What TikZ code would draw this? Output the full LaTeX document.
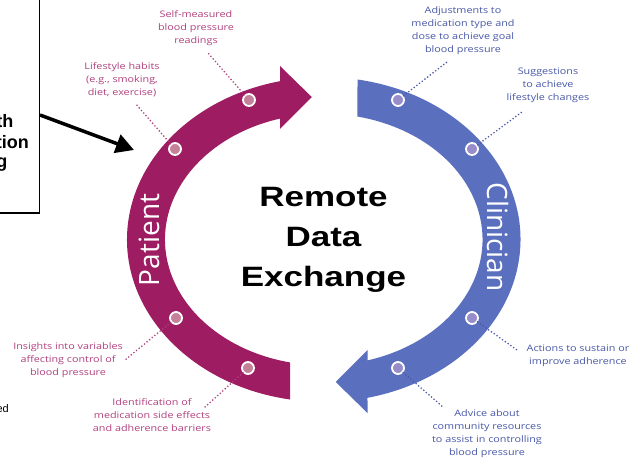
\documentclass[tikz,border=0pt]{standalone}
\usepackage{fontspec}
\setmainfont{Open Sans}
\newfontfamily\lblfont[FakeStretch=1.2]{Open Sans}
\newfontfamily\bandfont{Open Sans}
\newfontfamily\titlefont[FakeStretch=1.25]{Liberation Sans}
\newfontfamily\boxfont{Liberation Sans}
\usetikzlibrary{arrows.meta}
\definecolor{pat}{HTML}{9E1D62}
\definecolor{cli}{HTML}{5B6FBF}
\definecolor{patlbl}{HTML}{B0407F}
\definecolor{clilbl}{HTML}{4858A8}
\definecolor{patdot}{HTML}{C48199}
\definecolor{clidot}{HTML}{978DCB}
\tikzset{
  lbl/.style={font=\lblfont\fontsize{9}{13}\selectfont, align=center, inner sep=0pt},
  plbl/.style={lbl, text=patlbl},
  clbl/.style={lbl, text=clilbl},
  pdot/.style={circle, draw=white, line width=1.8pt, fill=patdot, minimum size=12pt, inner sep=0pt},
  cdot/.style={circle, draw=white, line width=1.8pt, fill=clidot, minimum size=12pt, inner sep=0pt},
  pleader/.style={draw=patlbl, line width=1.8pt, dash pattern=on 0pt off 3.4pt, line cap=round},
  cleader/.style={draw=clilbl, line width=1.8pt, dash pattern=on 0pt off 3.4pt, line cap=round},
  bandtxt/.style={text=white, font=\bandfont\fontsize{28}{28}\selectfont, inner sep=0pt},
  boxtxt/.style={font=\boxfont\bfseries\fontsize{18}{20}\selectfont, inner sep=0pt, anchor=base east},
  bigarrow/.style={line width=3.5pt, -{Triangle[length=18pt,width=19pt]}},
}
\begin{document}
\begin{tikzpicture}[x=1pt,y=1pt]
\useasboundingbox (0,0) rectangle (629,-462);
\clip (0,0) rectangle (629,-462);
\fill[white] (0,0) rectangle (629,-462);

% left box (partially visible)
\draw[line width=1.6pt] (-20,20) rectangle (39.5,-213);
\node[boxtxt] (t1) at (13.5,-128) {th};
\node[boxtxt] (t2) at (29,-149) {ation};
\node[boxtxt] (t3) at (7.5,-168) {g};
\node[font=\boxfont\fontsize{11}{13}\selectfont, inner sep=0pt, anchor=base east] (ed) at (9,-412) {ed};
\coordinate (arrS) at (40,-115);
\coordinate (arrE) at (134,-150);
\draw[bigarrow] (arrS) -- (arrE);

% bands
\begin{scope}[shift={(323.75,-239.5)}]
\fill[pat] (-43.75,158.3) -- (-43.75,173.5) -- (-12,142.5) -- (-43.75,110.5) -- (-43.75,120.9)
  arc[start angle=106, end angle=257.73, x radius=158.75, y radius=125.8]
  -- (-33.75,-160.0)
  arc[start angle=260.12, end angle=102.85, x radius=196.75, y radius=162.4] -- cycle;
\fill[cli] (33.75,160.0)
  arc[start angle=80.12, end angle=-77.15, x radius=196.75, y radius=162.4]
  -- (43.75,-173.5) -- (12,-142.5) -- (43.75,-110.5) -- (43.75,-120.9)
  arc[start angle=-74, end angle=77.73, x radius=158.75, y radius=125.8] -- cycle;
\end{scope}

\node[bandtxt, rotate=90] (patient) at (149.5,-240) {Patient};
\node[bandtxt, rotate=-90] (clinician) at (497.5,-237) {Clinician};

\node[font=\titlefont\bfseries\fontsize{28}{40}\selectfont, align=center, inner sep=0pt] (title) at (323.5,-240) {Remote\\Data\\Exchange};

% dots
\node[pdot] (d1) at (175,-149) {};
\node[pdot] (d2) at (249,-100) {};
\node[pdot] (d3) at (176,-318) {};
\node[pdot] (d4) at (248,-368) {};
\node[cdot] (d5) at (398,-100) {};
\node[cdot] (d6) at (472,-149) {};
\node[cdot] (d7) at (472,-318) {};
\node[cdot] (d8) at (398,-368) {};

% labels
\node[plbl] (l2) at (196,-28) {Self-measured\\blood pressure\\readings};
\node[plbl] (l1) at (122,-80) {Lifestyle habits\\(e.g., smoking,\\diet, exercise)};
\node[plbl] (l3) at (68,-360) {Insights into variables\\affecting control of\\blood pressure};
\node[plbl] (l4) at (152,-415) {Identification of\\medication side effects\\and adherence barriers};
\node[clbl] (l5) at (463,-31) {Adjustments to\\medication type and\\dose to achieve goal\\blood pressure};
\node[clbl] (l6) at (548,-85) {Suggestions\\to achieve\\lifestyle changes};
\node[clbl] (l7) at (578,-356) {Actions to sustain or\\improve adherence};
\node[clbl] (l8) at (487,-434) {Advice about\\community resources\\to assist in controlling\\blood pressure};

% leaders
\coordinate (e1) at (135,-103);
\coordinate (e2) at (208,-53);
\coordinate (e3) at (125,-360);
\coordinate (e4) at (205,-407);
\coordinate (e5) at (447,-62);
\coordinate (e6) at (522,-112);
\coordinate (e7) at (517,-350);
\coordinate (e8) at (443,-407);
\draw[pleader] (d1) -- (e1);
\draw[pleader] (d2) -- (e2);
\draw[pleader] (d3) -- (e3);
\draw[pleader] (d4) -- (e4);
\draw[cleader] (d5) -- (e5);
\draw[cleader] (d6) -- (e6);
\draw[cleader] (d7) -- (e7);
\draw[cleader] (d8) -- (e8);
\end{tikzpicture}
\end{document}
